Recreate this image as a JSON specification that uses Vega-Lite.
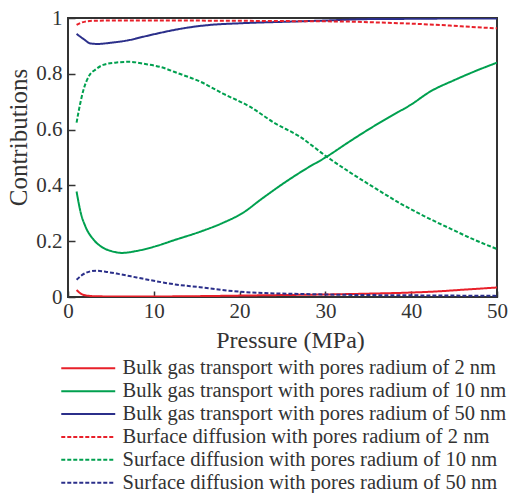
{
  "$schema": "https://vega.github.io/schema/vega-lite/v6.json",
  "width": 429,
  "height": 279,
  "autosize": {"type": "none"},
  "padding": {"left": 68, "top": 18, "right": 11, "bottom": 196},
  "config": {
    "font": "Liberation Serif",
    "view": {"stroke": "#333333", "strokeWidth": 2},
    "axis": {"grid": false, "domain": false, "labelFont": "Liberation Serif", "titleFont": "Liberation Serif", "labelColor": "#333333", "titleColor": "#333333", "labelFontSize": 21, "titleFontSize": 23, "titleFontWeight": "normal", "tickColor": "#333333", "tickWidth": 1.5}
  },
  "data": {"values": [
    {"series": "Bulk gas transport with pores radium of 2 nm", "p": 1, "v": 0.025},
    {"series": "Bulk gas transport with pores radium of 2 nm", "p": 1.5, "v": 0.012},
    {"series": "Bulk gas transport with pores radium of 2 nm", "p": 2, "v": 0.006},
    {"series": "Bulk gas transport with pores radium of 2 nm", "p": 3, "v": 0.003},
    {"series": "Bulk gas transport with pores radium of 2 nm", "p": 5, "v": 0.002},
    {"series": "Bulk gas transport with pores radium of 2 nm", "p": 10, "v": 0.002},
    {"series": "Bulk gas transport with pores radium of 2 nm", "p": 15, "v": 0.003},
    {"series": "Bulk gas transport with pores radium of 2 nm", "p": 20, "v": 0.005},
    {"series": "Bulk gas transport with pores radium of 2 nm", "p": 25, "v": 0.007},
    {"series": "Bulk gas transport with pores radium of 2 nm", "p": 30, "v": 0.009},
    {"series": "Bulk gas transport with pores radium of 2 nm", "p": 35, "v": 0.012},
    {"series": "Bulk gas transport with pores radium of 2 nm", "p": 40, "v": 0.016},
    {"series": "Bulk gas transport with pores radium of 2 nm", "p": 43, "v": 0.02},
    {"series": "Bulk gas transport with pores radium of 2 nm", "p": 46, "v": 0.026},
    {"series": "Bulk gas transport with pores radium of 2 nm", "p": 50, "v": 0.034},

    {"series": "Bulk gas transport with pores radium of 10 nm", "p": 1, "v": 0.378},
    {"series": "Bulk gas transport with pores radium of 10 nm", "p": 1.5, "v": 0.3},
    {"series": "Bulk gas transport with pores radium of 10 nm", "p": 2, "v": 0.255},
    {"series": "Bulk gas transport with pores radium of 10 nm", "p": 3, "v": 0.205},
    {"series": "Bulk gas transport with pores radium of 10 nm", "p": 4, "v": 0.178},
    {"series": "Bulk gas transport with pores radium of 10 nm", "p": 5, "v": 0.165},
    {"series": "Bulk gas transport with pores radium of 10 nm", "p": 6.3, "v": 0.158},
    {"series": "Bulk gas transport with pores radium of 10 nm", "p": 8, "v": 0.165},
    {"series": "Bulk gas transport with pores radium of 10 nm", "p": 10, "v": 0.18},
    {"series": "Bulk gas transport with pores radium of 10 nm", "p": 12.5, "v": 0.205},
    {"series": "Bulk gas transport with pores radium of 10 nm", "p": 15.4, "v": 0.234},
    {"series": "Bulk gas transport with pores radium of 10 nm", "p": 18, "v": 0.265},
    {"series": "Bulk gas transport with pores radium of 10 nm", "p": 20.4, "v": 0.302},
    {"series": "Bulk gas transport with pores radium of 10 nm", "p": 22.5, "v": 0.35},
    {"series": "Bulk gas transport with pores radium of 10 nm", "p": 25.1, "v": 0.407},
    {"series": "Bulk gas transport with pores radium of 10 nm", "p": 27.5, "v": 0.455},
    {"series": "Bulk gas transport with pores radium of 10 nm", "p": 30.15, "v": 0.503},
    {"series": "Bulk gas transport with pores radium of 10 nm", "p": 32.9, "v": 0.559},
    {"series": "Bulk gas transport with pores radium of 10 nm", "p": 35, "v": 0.6},
    {"series": "Bulk gas transport with pores radium of 10 nm", "p": 37.5, "v": 0.646},
    {"series": "Bulk gas transport with pores radium of 10 nm", "p": 40, "v": 0.69},
    {"series": "Bulk gas transport with pores radium of 10 nm", "p": 42.2, "v": 0.736},
    {"series": "Bulk gas transport with pores radium of 10 nm", "p": 45, "v": 0.777},
    {"series": "Bulk gas transport with pores radium of 10 nm", "p": 47.5, "v": 0.81},
    {"series": "Bulk gas transport with pores radium of 10 nm", "p": 50, "v": 0.84},

    {"series": "Bulk gas transport with pores radium of 50 nm", "p": 1, "v": 0.943},
    {"series": "Bulk gas transport with pores radium of 50 nm", "p": 1.8, "v": 0.925},
    {"series": "Bulk gas transport with pores radium of 50 nm", "p": 2.6, "v": 0.909},
    {"series": "Bulk gas transport with pores radium of 50 nm", "p": 3.5, "v": 0.907},
    {"series": "Bulk gas transport with pores radium of 50 nm", "p": 4.9, "v": 0.911},
    {"series": "Bulk gas transport with pores radium of 50 nm", "p": 7, "v": 0.92},
    {"series": "Bulk gas transport with pores radium of 50 nm", "p": 8.8, "v": 0.933},
    {"series": "Bulk gas transport with pores radium of 50 nm", "p": 10.5, "v": 0.945},
    {"series": "Bulk gas transport with pores radium of 50 nm", "p": 12.7, "v": 0.959},
    {"series": "Bulk gas transport with pores radium of 50 nm", "p": 14.5, "v": 0.968},
    {"series": "Bulk gas transport with pores radium of 50 nm", "p": 16.5, "v": 0.975},
    {"series": "Bulk gas transport with pores radium of 50 nm", "p": 20, "v": 0.981},
    {"series": "Bulk gas transport with pores radium of 50 nm", "p": 25.9, "v": 0.987},
    {"series": "Bulk gas transport with pores radium of 50 nm", "p": 30, "v": 0.991},
    {"series": "Bulk gas transport with pores radium of 50 nm", "p": 35, "v": 0.996},
    {"series": "Bulk gas transport with pores radium of 50 nm", "p": 40, "v": 0.997},
    {"series": "Bulk gas transport with pores radium of 50 nm", "p": 45, "v": 0.998},
    {"series": "Bulk gas transport with pores radium of 50 nm", "p": 50, "v": 0.998},

    {"series": "Burface diffusion with pores radium of 2 nm", "p": 1, "v": 0.975},
    {"series": "Burface diffusion with pores radium of 2 nm", "p": 1.5, "v": 0.983},
    {"series": "Burface diffusion with pores radium of 2 nm", "p": 2, "v": 0.987},
    {"series": "Burface diffusion with pores radium of 2 nm", "p": 3, "v": 0.99},
    {"series": "Burface diffusion with pores radium of 2 nm", "p": 5, "v": 0.991},
    {"series": "Burface diffusion with pores radium of 2 nm", "p": 10, "v": 0.991},
    {"series": "Burface diffusion with pores radium of 2 nm", "p": 20, "v": 0.99},
    {"series": "Burface diffusion with pores radium of 2 nm", "p": 25, "v": 0.989},
    {"series": "Burface diffusion with pores radium of 2 nm", "p": 30, "v": 0.988},
    {"series": "Burface diffusion with pores radium of 2 nm", "p": 33, "v": 0.987},
    {"series": "Burface diffusion with pores radium of 2 nm", "p": 36, "v": 0.984},
    {"series": "Burface diffusion with pores radium of 2 nm", "p": 39, "v": 0.981},
    {"series": "Burface diffusion with pores radium of 2 nm", "p": 42, "v": 0.977},
    {"series": "Burface diffusion with pores radium of 2 nm", "p": 44.5, "v": 0.973},
    {"series": "Burface diffusion with pores radium of 2 nm", "p": 47, "v": 0.968},
    {"series": "Burface diffusion with pores radium of 2 nm", "p": 50, "v": 0.963},

    {"series": "Surface diffusion with pores radium of 10 nm", "p": 1, "v": 0.625},
    {"series": "Surface diffusion with pores radium of 10 nm", "p": 1.4, "v": 0.69},
    {"series": "Surface diffusion with pores radium of 10 nm", "p": 1.8, "v": 0.742},
    {"series": "Surface diffusion with pores radium of 10 nm", "p": 2.5, "v": 0.795},
    {"series": "Surface diffusion with pores radium of 10 nm", "p": 3.2, "v": 0.815},
    {"series": "Surface diffusion with pores radium of 10 nm", "p": 4.1, "v": 0.832},
    {"series": "Surface diffusion with pores radium of 10 nm", "p": 5.5, "v": 0.84},
    {"series": "Surface diffusion with pores radium of 10 nm", "p": 7.2, "v": 0.843},
    {"series": "Surface diffusion with pores radium of 10 nm", "p": 9, "v": 0.835},
    {"series": "Surface diffusion with pores radium of 10 nm", "p": 10.7, "v": 0.825},
    {"series": "Surface diffusion with pores radium of 10 nm", "p": 13, "v": 0.8},
    {"series": "Surface diffusion with pores radium of 10 nm", "p": 15.4, "v": 0.772},
    {"series": "Surface diffusion with pores radium of 10 nm", "p": 18, "v": 0.73},
    {"series": "Surface diffusion with pores radium of 10 nm", "p": 21.2, "v": 0.682},
    {"series": "Surface diffusion with pores radium of 10 nm", "p": 24, "v": 0.625},
    {"series": "Surface diffusion with pores radium of 10 nm", "p": 27, "v": 0.575},
    {"series": "Surface diffusion with pores radium of 10 nm", "p": 30.15, "v": 0.503},
    {"series": "Surface diffusion with pores radium of 10 nm", "p": 32.9, "v": 0.446},
    {"series": "Surface diffusion with pores radium of 10 nm", "p": 35.8, "v": 0.39},
    {"series": "Surface diffusion with pores radium of 10 nm", "p": 38.7, "v": 0.336},
    {"series": "Surface diffusion with pores radium of 10 nm", "p": 41.5, "v": 0.29},
    {"series": "Surface diffusion with pores radium of 10 nm", "p": 44.5, "v": 0.246},
    {"series": "Surface diffusion with pores radium of 10 nm", "p": 47, "v": 0.21},
    {"series": "Surface diffusion with pores radium of 10 nm", "p": 50, "v": 0.172},

    {"series": "Surface diffusion with pores radium of 50 nm", "p": 1, "v": 0.062},
    {"series": "Surface diffusion with pores radium of 50 nm", "p": 1.7, "v": 0.08},
    {"series": "Surface diffusion with pores radium of 50 nm", "p": 2.5, "v": 0.091},
    {"series": "Surface diffusion with pores radium of 50 nm", "p": 3.3, "v": 0.094},
    {"series": "Surface diffusion with pores radium of 50 nm", "p": 4.5, "v": 0.09},
    {"series": "Surface diffusion with pores radium of 50 nm", "p": 6, "v": 0.082},
    {"series": "Surface diffusion with pores radium of 50 nm", "p": 8, "v": 0.07},
    {"series": "Surface diffusion with pores radium of 50 nm", "p": 10, "v": 0.058},
    {"series": "Surface diffusion with pores radium of 50 nm", "p": 12.5, "v": 0.045},
    {"series": "Surface diffusion with pores radium of 50 nm", "p": 15.4, "v": 0.035},
    {"series": "Surface diffusion with pores radium of 50 nm", "p": 18, "v": 0.025},
    {"series": "Surface diffusion with pores radium of 50 nm", "p": 20, "v": 0.019},
    {"series": "Surface diffusion with pores radium of 50 nm", "p": 23, "v": 0.014},
    {"series": "Surface diffusion with pores radium of 50 nm", "p": 27, "v": 0.011},
    {"series": "Surface diffusion with pores radium of 50 nm", "p": 30, "v": 0.009},
    {"series": "Surface diffusion with pores radium of 50 nm", "p": 35, "v": 0.007},
    {"series": "Surface diffusion with pores radium of 50 nm", "p": 40, "v": 0.006},
    {"series": "Surface diffusion with pores radium of 50 nm", "p": 45, "v": 0.005},
    {"series": "Surface diffusion with pores radium of 50 nm", "p": 50, "v": 0.004}
  ]},
  "mark": {"type": "line", "interpolate": "monotone", "strokeWidth": 2, "clip": true},
  "encoding": {
    "x": {"field": "p", "type": "quantitative", "scale": {"domain": [0, 50], "nice": false},
      "axis": {"values": [0, 10, 20, 30, 40, 50], "title": "Pressure (MPa)", "titleFontSize": 24, "tickSize": -6, "labelPadding": 9, "titlePadding": 7, "titleX": 222, "titleAlign": "center", "labelFlush": false}},
    "y": {"field": "v", "type": "quantitative", "scale": {"domain": [0, 1], "nice": false},
      "axis": {"values": [0, 0.2, 0.4, 0.6, 0.8, 1], "labelExpr": "datum.value == 0 || datum.value == 1 ? format(datum.value, 'd') : format(datum.value, '.1f')", "title": "Contributions", "titleFontSize": 25, "tickSize": -7, "labelPadding": 13, "titleX": -50, "titleY": 119, "titleAlign": "center", "titleBaseline": "middle", "labelFlush": false}},
    "color": {"field": "series", "type": "nominal",
      "scale": {"domain": [
        "Bulk gas transport with pores radium of 2 nm",
        "Bulk gas transport with pores radium of 10 nm",
        "Bulk gas transport with pores radium of 50 nm",
        "Burface diffusion with pores radium of 2 nm",
        "Surface diffusion with pores radium of 10 nm",
        "Surface diffusion with pores radium of 50 nm"],
        "range": ["#e8202a", "#00a04f", "#2b2f8a", "#e8202a", "#00a04f", "#2b2f8a"]},
      "legend": {"title": null, "orient": "none", "legendX": 10, "legendY": 340, "symbolType": "M-4,0H4", "symbolSize": 182, "symbolStrokeWidth": 2, "labelFont": "Liberation Serif", "labelFontSize": 20.5, "labelColor": "#333333", "labelOffset": 24, "rowPadding": 1.9, "labelLimit": 500}},
    "strokeDash": {"field": "series", "type": "nominal",
      "scale": {"domain": [
        "Bulk gas transport with pores radium of 2 nm",
        "Bulk gas transport with pores radium of 10 nm",
        "Bulk gas transport with pores radium of 50 nm",
        "Burface diffusion with pores radium of 2 nm",
        "Surface diffusion with pores radium of 10 nm",
        "Surface diffusion with pores radium of 50 nm"],
        "range": [[1, 0], [1, 0], [1, 0], [4, 2], [4, 2], [4, 2]]}}
  }
}
